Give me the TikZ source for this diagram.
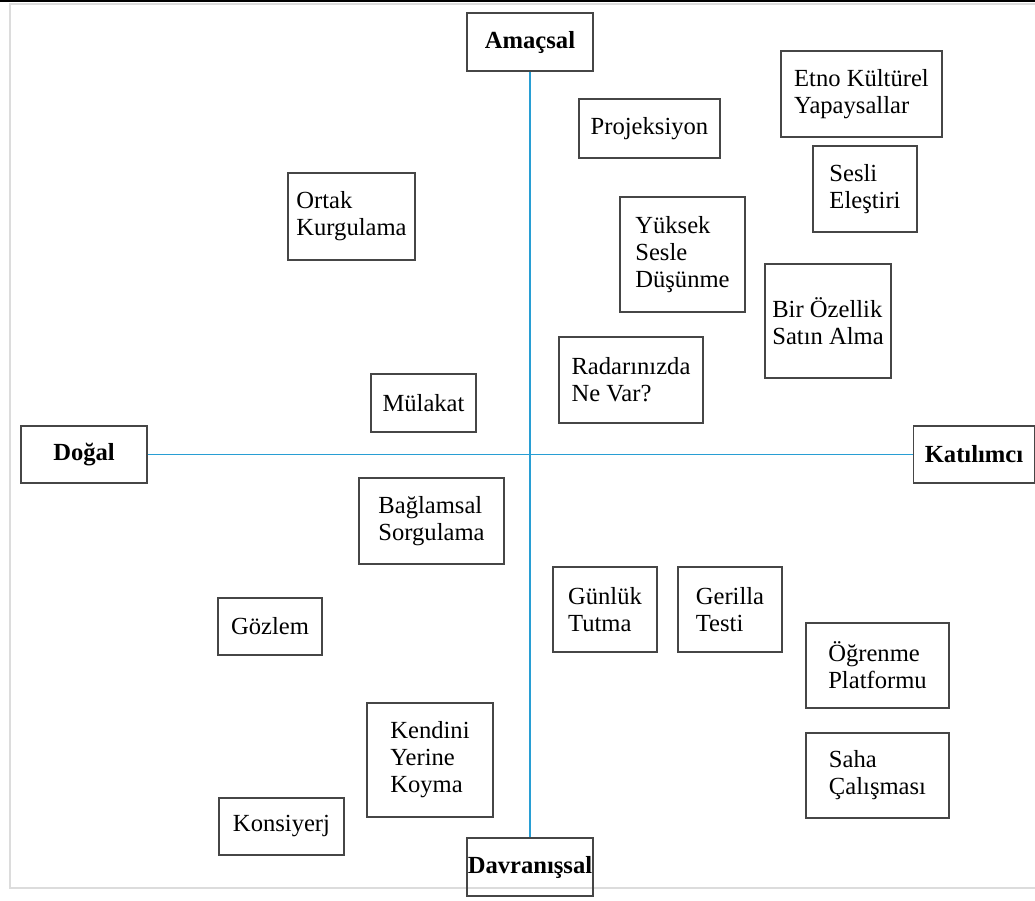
\documentclass[tikz,border=0pt]{standalone}
\usepackage{fontspec}
\setmainfont{Liberation Serif}
\definecolor{eksen}{RGB}{40,158,212}
\definecolor{kenar}{RGB}{70,70,70}
\definecolor{cerceve}{RGB}{220,220,220}

\begin{document}
\begin{tikzpicture}[x=0.02cm,y=-0.02cm,
    kutu/.style={draw=kenar,line width=0.8pt,align=left,inner sep=0pt,
        font=\fontsize{14}{15.4}\selectfont},
    ana/.style={kutu,font=\fontsize{14}{15.4}\selectfont\bfseries},
    axis/.style={draw=eksen,line width=0.9pt}]
        \useasboundingbox (0,0) rectangle (1035,900);
        \draw[cerceve,line width=1.2pt] (1045,4) -- (10,4) -- (10,888) -- (1045,888);
        \draw[black,line width=1.6pt] (0,1) -- (1035,1);
        \node[ana,minimum width=126*0.02cm,minimum height=58*0.02cm] (amac) at (530,42) {Amaçsal};
        \node[ana,minimum width=126*0.02cm,minimum height=57*0.02cm] (dogal) at (84,454.5) {Doğal};
        \node[ana,minimum width=121*0.02cm,minimum height=57*0.02cm] (katilim) at (974,454.5) {Katılımcı};
        \node[ana,minimum width=126*0.02cm,minimum height=58*0.02cm] (davran) at (530,867) {Davranışsal};
        \draw[axis] (amac) -- (davran);
        \draw[axis] (dogal) -- (katilim);
        \node[kutu,minimum width=141*0.02cm,minimum height=59*0.02cm] (projeksiyon) at (649.5,128.5) {Projeksiyon};
        \node[kutu,minimum width=161*0.02cm,minimum height=86*0.02cm] (etno) at (861.5,94) {Etno Kültürel\\Yapaysallar};
        \node[kutu,minimum width=104*0.02cm,minimum height=86*0.02cm] (sesli) at (865,189) {Sesli\\Eleştiri};
        \node[kutu,minimum width=127*0.02cm,minimum height=87*0.02cm] (ortak) at (351.5,216.5) {Ortak\\Kurgulama};
        \node[kutu,minimum width=125*0.02cm,minimum height=115*0.02cm] (yuksek) at (682.5,254.5) {Yüksek\\Sesle\\Düşünme};
        \node[kutu,minimum width=126*0.02cm,minimum height=114*0.02cm] (ozellik) at (828,321) {Bir Özellik\\Satın Alma};
        \node[kutu,minimum width=144*0.02cm,minimum height=86*0.02cm] (radar) at (631,380) {Radarınızda\\Ne Var?};
        \node[kutu,minimum width=105*0.02cm,minimum height=58*0.02cm] (mulakat) at (423.5,403) {Mülakat};
        \node[kutu,minimum width=145*0.02cm,minimum height=86*0.02cm] (baglamsal) at (431.5,521) {Bağlamsal\\Sorgulama};
        \node[kutu,minimum width=104*0.02cm,minimum height=57*0.02cm] (gozlem) at (270,626.5) {Gözlem};
        \node[kutu,minimum width=104*0.02cm,minimum height=85*0.02cm] (gunluk) at (605,609.5) {Günlük\\Tutma};
        \node[kutu,minimum width=104*0.02cm,minimum height=85*0.02cm] (gerilla) at (730,609.5) {Gerilla\\Testi};
        \node[kutu,minimum width=143*0.02cm,minimum height=85*0.02cm] (ogrenme) at (877.5,665.5) {Öğrenme\\Platformu};
        \node[kutu,minimum width=143*0.02cm,minimum height=85*0.02cm] (saha) at (877.5,775.5) {Saha\\Çalışması};
        \node[kutu,minimum width=126*0.02cm,minimum height=114*0.02cm] (kendini) at (430,760) {Kendini\\Yerine\\Koyma};
        \node[kutu,minimum width=125*0.02cm,minimum height=57*0.02cm] (konsiyerj) at (281.5,826.5) {Konsiyerj};
\end{tikzpicture}
\end{document}
